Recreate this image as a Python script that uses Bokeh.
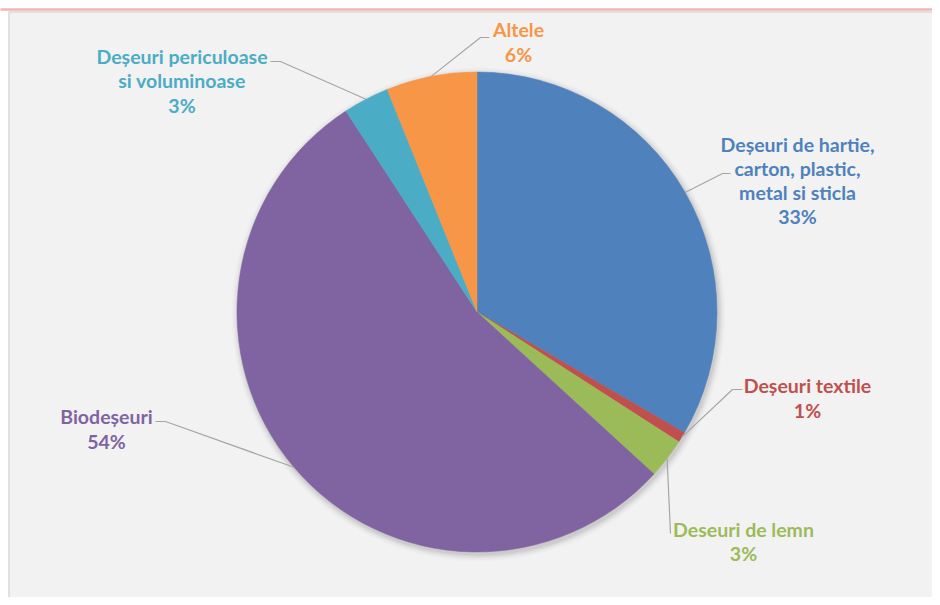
import math
from bokeh.plotting import figure
from bokeh.embed import file_html
from bokeh.resources import INLINE
from bokeh.core.properties import value

# ---- data ----
categories = ["Deșeuri de hartie,\ncarton, plastic,\nmetal si sticla",
              "Deșeuri textile",
              "Deseuri de lemn",
              "Biodeșeuri",
              "Deșeuri periculoase\nsi voluminoase",
              "Altele"]
shares = [33.4, 0.7, 2.7, 54.0, 3.1, 6.1]
pct_labels = ["33%", "1%", "3%", "54%", "3%", "6%"]
colors = ["#4f81bd", "#c0504d", "#9bbb59", "#8064a2", "#4bacc6", "#f79646"]

W, H = 932, 597
def fx(x):  # reference pixel -> figure coords
    return x
def fy(y):
    return H - y

CX, CY, R = fx(476.5), fy(311.5), 240

p = figure(width=W, height=H, x_range=(0, W), y_range=(0, H),
           x_axis_type=None, y_axis_type=None, toolbar_location=None,
           output_backend="svg", min_border=0, outline_line_color=None)
p.grid.visible = False
p.background_fill_color = "#ffffff"
p.border_fill_color = "#ffffff"

# frame
p.quad(left=[fx(8.5)], right=[W + 5], bottom=[-5], top=[fy(11.5)],
       fill_color="#f2f2f2", line_color="#d9d9d9", line_width=1.5)
p.segment(x0=[-5], y0=[fy(9)], x1=[W + 5], y1=[fy(9)], line_color="#f4b4b4", line_width=2.5)

# soft shadow
for i, a in enumerate([0.05, 0.04, 0.03, 0.02, 0.015]):
    p.circle(x=[CX + 1.5], y=[CY - 2.5], radius=R + 1 + i * 1.5,
             fill_color="#000000", fill_alpha=a, line_color=None)

# wedges (clockwise from 12 o'clock)
total = sum(shares)
starts, ends, mids = [], [], []
cum = 0.0
for s in shares:
    a0 = math.pi / 2 - 2 * math.pi * cum / total
    cum += s
    a1 = math.pi / 2 - 2 * math.pi * cum / total
    starts.append(a0)
    ends.append(a1)
    mids.append((a0 + a1) / 2)

p.wedge(x=[CX] * len(shares), y=[CY] * len(shares), radius=R,
        start_angle=starts, end_angle=ends, direction="clock",
        fill_color=colors, line_color=colors, line_width=0.5)

# label layout (reference pixel positions)
label_pos = [(797, 180), (807, 397.5), (743, 541), (106, 428.5), (181.5, 80.5), (518, 41.5)]
elbows = [(722, 173), (732, 389), (670, 533), (165, 421), (280, 61), (480, 37)]
ends_pt = [(730, 173), (742, 389), (670, 533), (155, 421), (270, 61), (489, 37)]

for m, el, en in zip(mids, elbows, ends_pt):
    ex, ey = CX + R * math.cos(m), CY + R * math.sin(m)
    p.line(x=[ex, fx(el[0]), fx(en[0])], y=[ey, fy(el[1]), fy(en[1])],
           line_color="#a6a6a6", line_width=1.2)

texts = [c + "\n" + v for c, v in zip(categories, pct_labels)]
p.text(x=[fx(a) for a, b in label_pos], y=[fy(b) for a, b in label_pos], text=texts,
       text_color=colors, text_font=value("Lato"), text_font_style="bold",
       text_font_size="19.5px", text_align="center", text_baseline="middle",
       text_line_height=1.05)

open("out.html", "w").write(file_html(p, INLINE))
